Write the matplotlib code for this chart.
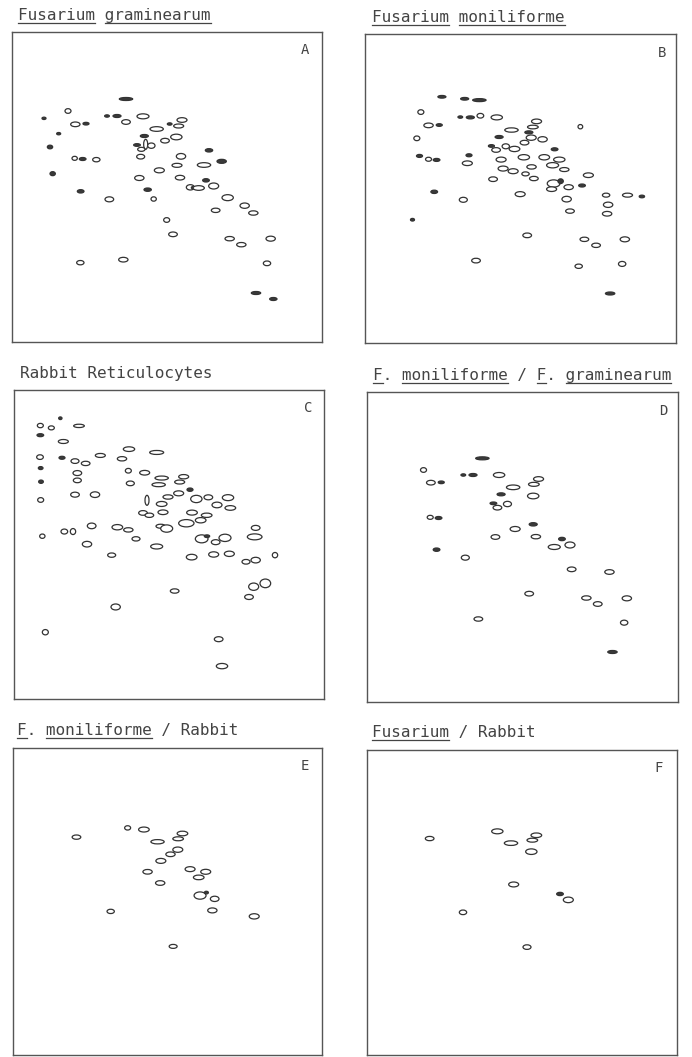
import matplotlib
matplotlib.use("Agg")
import matplotlib.pyplot as plt
from matplotlib.patches import Ellipse
from matplotlib.lines import Line2D

W, H = 692, 1057

# gel spots: (x, y, width, height, filled) in gel units, frame is 0-930, y measured downwards
spots_a = [
    (342, 201, 40, 9, 1), (168, 237, 18, 14, 0), (96, 259, 12, 7, 1), (190, 277, 28, 14, 0),
    (222, 275, 18, 8, 1), (285, 252, 14, 7, 1), (315, 252, 24, 9, 1), (342, 270, 26, 14, 0),
    (393, 253, 36, 15, 0), (510, 264, 30, 14, 0), (473, 276, 14, 7, 1), (500, 282, 30, 12, 0),
    (434, 291, 40, 14, 0), (140, 305, 12, 7, 1), (397, 312, 24, 9, 1), (493, 315, 34, 17, 0),
    (459, 326, 26, 14, 0), (114, 345, 16, 11, 1), (375, 339, 20, 8, 1), (401, 337, 12, 30, 0),
    (418, 341, 22, 16, 0), (388, 352, 22, 12, 0), (591, 355, 22, 10, 1), (386, 374, 24, 14, 0),
    (507, 373, 28, 17, 0), (188, 379, 16, 12, 0), (212, 381, 20, 9, 1), (253, 383, 22, 13, 0),
    (495, 400, 30, 12, 0), (576, 399, 40, 14, 0), (629, 388, 28, 12, 1), (122, 425, 16, 12, 1),
    (442, 415, 30, 15, 0), (382, 438, 28, 15, 0), (504, 437, 28, 14, 0), (582, 445, 20, 10, 1),
    (535, 466, 24, 16, 0), (543, 467, 10, 7, 1), (560, 468, 34, 14, 0), (605, 462, 30, 18, 0),
    (206, 478, 20, 10, 1), (407, 473, 22, 10, 1), (292, 502, 26, 15, 0), (425, 501, 16, 13, 0),
    (647, 497, 34, 18, 0), (698, 521, 28, 16, 0), (611, 535, 26, 13, 0), (724, 543, 28, 13, 0),
    (464, 564, 18, 14, 0), (483, 607, 26, 14, 0), (653, 620, 28, 13, 0), (776, 620, 28, 15, 0),
    (688, 638, 28, 13, 0), (205, 692, 22, 13, 0), (334, 683, 28, 14, 0), (765, 694, 22, 14, 0),
    (732, 783, 28, 9, 1), (784, 801, 22, 9, 1),
]

spots_b = [
    (230, 189, 24, 8, 1), (298, 195, 24, 8, 1), (342, 199, 40, 9, 1), (167, 235, 18, 14, 0),
    (285, 250, 14, 7, 1), (315, 251, 24, 9, 1), (345, 246, 20, 14, 0), (394, 251, 34, 15, 0),
    (513, 263, 30, 14, 0), (190, 275, 28, 14, 0), (222, 274, 18, 8, 1), (502, 280, 32, 11, 0),
    (644, 279, 14, 13, 0), (438, 289, 40, 13, 0), (490, 296, 24, 9, 1), (401, 310, 24, 9, 1),
    (155, 314, 18, 14, 0), (497, 312, 30, 16, 0), (531, 317, 28, 16, 0), (477, 327, 26, 14, 0),
    (378, 337, 18, 8, 1), (421, 338, 22, 15, 0), (392, 349, 26, 14, 0), (447, 346, 32, 16, 0),
    (567, 347, 20, 9, 1), (163, 367, 18, 9, 1), (311, 365, 18, 9, 1), (190, 377, 18, 12, 0),
    (214, 379, 20, 9, 1), (475, 371, 34, 16, 0), (536, 371, 32, 16, 0), (407, 378, 30, 15, 0),
    (581, 378, 34, 15, 0), (306, 389, 30, 14, 0), (561, 395, 36, 16, 0), (498, 400, 28, 13, 0),
    (413, 405, 30, 15, 0), (443, 413, 30, 15, 0), (596, 408, 28, 12, 0), (480, 421, 22, 12, 0),
    (668, 425, 30, 14, 0), (505, 435, 26, 13, 0), (383, 437, 26, 14, 0), (564, 450, 38, 22, 0),
    (585, 443, 16, 14, 1), (649, 456, 20, 9, 1), (558, 467, 30, 14, 0), (609, 461, 28, 15, 0),
    (207, 475, 20, 10, 1), (464, 482, 30, 15, 0), (721, 485, 22, 12, 0), (785, 485, 30, 12, 0),
    (828, 489, 16, 8, 1), (294, 499, 24, 15, 0), (603, 497, 28, 17, 0), (727, 514, 28, 16, 0),
    (613, 533, 26, 13, 0), (724, 541, 28, 14, 0), (142, 559, 12, 8, 1), (485, 606, 26, 14, 0),
    (656, 618, 26, 13, 0), (777, 618, 28, 15, 0), (691, 636, 26, 13, 0), (332, 682, 26, 14, 0),
    (639, 699, 22, 13, 0), (769, 692, 22, 15, 0), (733, 781, 28, 9, 1),
]

spots_c = [
    (139, 85, 10, 8, 1), (79, 107, 18, 13, 0), (112, 114, 18, 12, 0), (195, 108, 32, 10, 0),
    (79, 136, 20, 9, 1), (148, 155, 30, 12, 0), (345, 178, 34, 14, 0), (428, 188, 42, 12, 0),
    (78, 202, 20, 14, 0), (144, 204, 18, 9, 1), (259, 197, 30, 12, 0), (324, 207, 28, 13, 0),
    (183, 214, 24, 14, 0), (215, 221, 26, 13, 0), (80, 235, 14, 9, 1), (343, 243, 18, 14, 0),
    (392, 249, 30, 14, 0), (190, 250, 26, 15, 0), (443, 265, 40, 12, 0), (509, 261, 30, 13, 0),
    (81, 276, 14, 10, 1), (190, 272, 24, 14, 0), (349, 281, 24, 14, 0), (434, 285, 40, 12, 0),
    (497, 277, 30, 12, 0), (528, 300, 18, 10, 1), (183, 315, 26, 15, 0), (243, 315, 28, 17, 0),
    (80, 331, 18, 14, 0), (399, 332, 12, 30, 0), (462, 322, 30, 13, 0), (494, 311, 30, 15, 0),
    (547, 328, 34, 22, 0), (583, 323, 26, 15, 0), (642, 324, 34, 18, 0), (443, 343, 32, 15, 0),
    (609, 346, 30, 17, 0), (649, 355, 32, 14, 0), (387, 370, 26, 14, 0), (406, 377, 26, 13, 0),
    (447, 368, 30, 14, 0), (534, 369, 32, 15, 0), (578, 377, 32, 13, 0), (517, 401, 46, 22, 0),
    (560, 392, 32, 16, 0), (440, 410, 28, 12, 0), (458, 417, 36, 22, 0), (233, 409, 26, 17, 0),
    (310, 413, 32, 16, 0), (343, 421, 28, 13, 0), (725, 415, 26, 15, 0), (85, 440, 16, 13, 0),
    (151, 426, 20, 15, 0), (177, 426, 16, 18, 0), (366, 448, 24, 13, 0), (563, 448, 38, 24, 0),
    (579, 440, 16, 8, 1), (633, 445, 36, 22, 0), (605, 458, 26, 15, 0), (722, 442, 44, 18, 0),
    (219, 464, 28, 17, 0), (428, 471, 36, 15, 0), (293, 497, 24, 13, 0), (533, 503, 32, 17, 0),
    (599, 495, 30, 16, 0), (646, 493, 30, 16, 0), (696, 517, 24, 14, 0), (725, 512, 28, 17, 0),
    (783, 497, 16, 16, 0), (754, 582, 32, 26, 0), (719, 592, 30, 22, 0), (705, 623, 26, 15, 0),
    (482, 605, 26, 13, 0), (305, 653, 28, 18, 0), (94, 729, 18, 16, 0), (614, 750, 26, 15, 0),
    (624, 831, 34, 16, 0),
]

spots_d = [
    (345, 199, 40, 9, 1), (169, 234, 18, 14, 0), (288, 249, 14, 7, 1), (317, 249, 24, 9, 1),
    (395, 249, 34, 15, 0), (191, 272, 26, 14, 0), (222, 271, 18, 8, 1), (513, 261, 30, 14, 0),
    (499, 277, 32, 12, 0), (437, 286, 40, 14, 0), (401, 307, 24, 9, 1), (497, 312, 34, 17, 0),
    (378, 334, 20, 8, 1), (420, 336, 24, 16, 0), (390, 347, 26, 14, 0), (189, 376, 18, 12, 0),
    (214, 378, 20, 9, 1), (497, 397, 24, 10, 1), (443, 411, 30, 15, 0), (384, 435, 26, 14, 0),
    (505, 434, 28, 13, 0), (583, 441, 20, 10, 1), (560, 465, 36, 15, 0), (607, 459, 30, 18, 0),
    (208, 473, 20, 10, 1), (294, 497, 24, 15, 0), (612, 532, 26, 14, 0), (725, 540, 28, 14, 0),
    (485, 605, 26, 14, 0), (656, 618, 28, 13, 0), (777, 619, 28, 15, 0), (690, 636, 26, 14, 0),
    (333, 681, 26, 13, 0), (769, 692, 22, 15, 0), (734, 780, 28, 9, 1),
]

spots_e = [
    (345, 242, 18, 13, 0), (394, 247, 32, 15, 0), (191, 270, 26, 13, 0), (510, 259, 32, 14, 0),
    (497, 275, 32, 12, 0), (435, 284, 40, 13, 0), (496, 308, 30, 16, 0), (474, 322, 28, 14, 0),
    (445, 342, 30, 15, 0), (405, 375, 28, 14, 0), (533, 367, 30, 15, 0), (580, 375, 30, 15, 0),
    (559, 392, 32, 14, 0), (443, 409, 28, 14, 0), (563, 447, 36, 22, 0), (582, 438, 12, 8, 1),
    (607, 457, 26, 16, 0), (600, 492, 28, 15, 0), (294, 495, 22, 13, 0), (726, 510, 30, 16, 0),
    (482, 601, 24, 12, 0),
]

spots_f = [
    (188, 270, 26, 13, 0), (391, 248, 34, 15, 0), (508, 260, 32, 14, 0), (496, 275, 32, 12, 0),
    (432, 284, 40, 14, 0), (493, 310, 34, 17, 0), (440, 410, 30, 15, 0), (579, 439, 20, 10, 1),
    (604, 457, 30, 17, 0), (288, 495, 22, 14, 0), (480, 601, 24, 14, 0),
]

panel_spots = [spots_a, spots_b, spots_c, spots_d, spots_e, spots_f]
panel_letters = ["A", "B", "C", "D", "E", "F"]
letter_pos = [(880, 55), (888, 57), (883, 55), (885, 58), (878, 55), (875, 55)]
titles = [
    "Fusarium graminearum",
    "Fusarium moniliforme",
    "Rabbit Reticulocytes",
    "F. moniliforme / F. graminearum",
    "F. moniliforme / Rabbit",
    "Fusarium / Rabbit",
]
underlined = [
    {"Fusarium", "graminearum"},
    {"Fusarium", "moniliforme"},
    set(),
    {"F", "moniliforme", "graminearum"},
    {"F", "moniliforme"},
    {"Fusarium"},
]

# layout in pixels: frame (left, top, right, bottom) and title (left, baseline)
frames = [(12, 32, 322, 342), (365, 34, 676, 343), (14, 390, 324, 699),
          (367, 392, 678, 702), (13, 748, 322, 1055), (367, 750, 677, 1055)]
title_pos = [(18, 20), (372, 22), (20, 378), (373, 380), (17, 735), (372, 737)]

MONO = "DejaVu Sans Mono"
INK = "#444444"

fig = plt.figure(figsize=(W / 100, H / 100), dpi=100)
fig.patch.set_facecolor("white")

title_artists = []
for i, spots in enumerate(panel_spots):
    l, t, r, b = frames[i]
    ax = fig.add_axes([l / W, 1 - b / H, (r - l) / W, (b - t) / H])
    ax.set_xlim(0, 930)
    ax.set_ylim(930, 0)
    ax.set_xticks([])
    ax.set_yticks([])
    for sp in ax.spines.values():
        sp.set_color("#555555")
        sp.set_linewidth(1.0)
    for x, y, w, h, filled in spots:
        ax.add_patch(Ellipse((x, y), w, h,
                             facecolor="#3a3a3a" if filled else "white",
                             edgecolor="#333333", lw=0.9))
    lx, ly = letter_pos[i]
    ax.text(lx, ly, panel_letters[i], family=MONO, fontsize=10, color=INK,
            ha="center", va="center")

    tx, ty = title_pos[i]
    txt = fig.text(tx / W, 1 - ty / H, titles[i], family=MONO, fontsize=11.5,
                   color=INK, va="baseline", ha="left")
    title_artists.append(txt)

# underline the species names, typewriter style
fig.canvas.draw()
renderer = fig.canvas.get_renderer()
for i, txt in enumerate(title_artists):
    s = titles[i]
    bb = txt.get_window_extent(renderer)
    cw = bb.width / len(s)
    yline = (H - title_pos[i][1] - 3) / H
    pos = 0
    for token in s.split(" "):
        core = token.rstrip(".")
        if core in underlined[i]:
            x0 = bb.x0 + pos * cw
            x1 = x0 + len(core) * cw
            fig.add_artist(Line2D([x0 / W, x1 / W], [yline, yline],
                                  transform=fig.transFigure, color=INK, lw=0.9))
        pos += len(token) + 1

fig.savefig("out.png", dpi=100)
